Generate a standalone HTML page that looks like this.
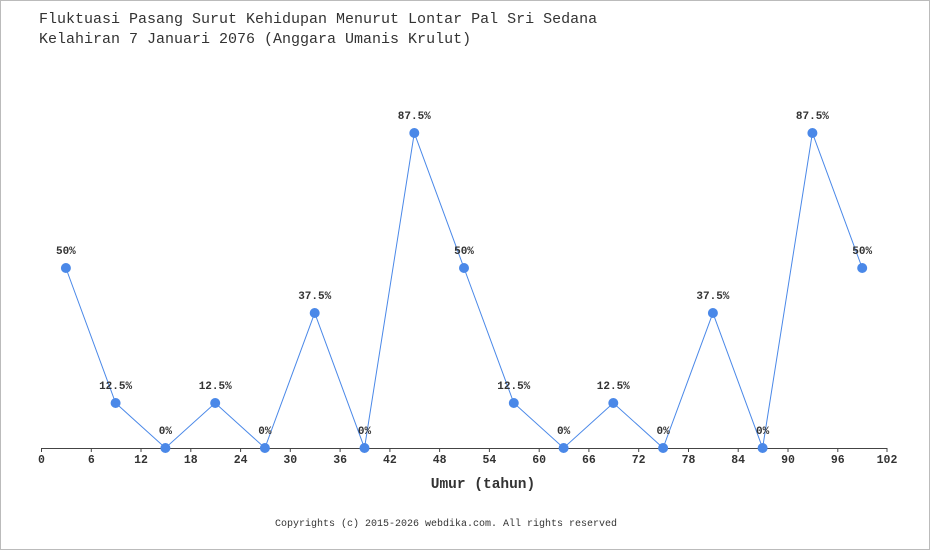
<!DOCTYPE html>
<html><head><meta charset="utf-8"><style>
html,body{margin:0;padding:0;background:#fff}
svg{display:block}
text{font-family:"Liberation Mono",monospace;fill:#333}
</style></head><body>
<svg width="930" height="550" viewBox="0 0 930 550" xmlns="http://www.w3.org/2000/svg">
<rect x="0.5" y="0.5" width="929" height="549" fill="#fff" stroke="#bbb"/>
<text x="39" y="23" font-size="15">Fluktuasi Pasang Surut Kehidupan Menurut Lontar Pal Sri Sedana</text>
<text x="39" y="43" font-size="15">Kelahiran 7 Januari 2076 (Anggara Umanis Krulut)</text>
<line x1="41" y1="448.5" x2="887" y2="448.5" stroke="#444" stroke-width="1"/>
<g stroke="#444" stroke-width="1">
<line x1="41.5" y1="448" x2="41.5" y2="452"/><line x1="91.3" y1="448" x2="91.3" y2="452"/><line x1="141" y1="448" x2="141" y2="452"/><line x1="190.8" y1="448" x2="190.8" y2="452"/><line x1="240.6" y1="448" x2="240.6" y2="452"/><line x1="290.3" y1="448" x2="290.3" y2="452"/><line x1="340.1" y1="448" x2="340.1" y2="452"/><line x1="389.9" y1="448" x2="389.9" y2="452"/><line x1="439.6" y1="448" x2="439.6" y2="452"/><line x1="489.4" y1="448" x2="489.4" y2="452"/><line x1="539.2" y1="448" x2="539.2" y2="452"/><line x1="588.9" y1="448" x2="588.9" y2="452"/><line x1="638.7" y1="448" x2="638.7" y2="452"/><line x1="688.5" y1="448" x2="688.5" y2="452"/><line x1="738.2" y1="448" x2="738.2" y2="452"/><line x1="788" y1="448" x2="788" y2="452"/><line x1="837.8" y1="448" x2="837.8" y2="452"/><line x1="887" y1="448" x2="887" y2="452"/>
</g>
<g font-size="11.5" font-weight="bold" text-anchor="middle">
<text x="41.5" y="463">0</text><text x="91.3" y="463">6</text><text x="141" y="463">12</text><text x="190.8" y="463">18</text><text x="240.6" y="463">24</text><text x="290.3" y="463">30</text><text x="340.1" y="463">36</text><text x="389.9" y="463">42</text><text x="439.6" y="463">48</text><text x="489.4" y="463">54</text><text x="539.2" y="463">60</text><text x="588.9" y="463">66</text><text x="638.7" y="463">72</text><text x="688.5" y="463">78</text><text x="738.2" y="463">84</text><text x="788" y="463">90</text><text x="837.8" y="463">96</text><text x="887" y="463">102</text>
</g>
<text x="483" y="488" font-size="14.5" font-weight="bold" text-anchor="middle">Umur (tahun)</text>
<text x="446" y="526" font-size="10" text-anchor="middle">Copyrights (c) 2015-2026 webdika.com. All rights reserved</text>
<polyline fill="none" stroke="#4a88e8" stroke-width="1" points="65.9,268 115.6,403 165.4,448 215.2,403 264.9,448 314.7,313 364.5,448 414.3,133 464,268 513.8,403 563.6,448 613.3,403 663.1,448 712.9,313 762.6,448 812.4,133 862.2,268"/>
<g fill="#4a88e8">
<circle cx="65.9" cy="268" r="5"/><circle cx="115.6" cy="403" r="5"/><circle cx="165.4" cy="448" r="5"/><circle cx="215.2" cy="403" r="5"/><circle cx="264.9" cy="448" r="5"/><circle cx="314.7" cy="313" r="5"/><circle cx="364.5" cy="448" r="5"/><circle cx="414.3" cy="133" r="5"/><circle cx="464" cy="268" r="5"/><circle cx="513.8" cy="403" r="5"/><circle cx="563.6" cy="448" r="5"/><circle cx="613.3" cy="403" r="5"/><circle cx="663.1" cy="448" r="5"/><circle cx="712.9" cy="313" r="5"/><circle cx="762.6" cy="448" r="5"/><circle cx="812.4" cy="133" r="5"/><circle cx="862.2" cy="268" r="5"/>
</g>
<g font-size="11" font-weight="bold" text-anchor="middle">
<text x="65.9" y="254">50%</text><text x="115.6" y="389">12.5%</text><text x="165.4" y="434">0%</text><text x="215.2" y="389">12.5%</text><text x="264.9" y="434">0%</text><text x="314.7" y="299">37.5%</text><text x="364.5" y="434">0%</text><text x="414.3" y="119">87.5%</text><text x="464" y="254">50%</text><text x="513.8" y="389">12.5%</text><text x="563.6" y="434">0%</text><text x="613.3" y="389">12.5%</text><text x="663.1" y="434">0%</text><text x="712.9" y="299">37.5%</text><text x="762.6" y="434">0%</text><text x="812.4" y="119">87.5%</text><text x="862.2" y="254">50%</text>
</g>
</svg>
</body></html>
